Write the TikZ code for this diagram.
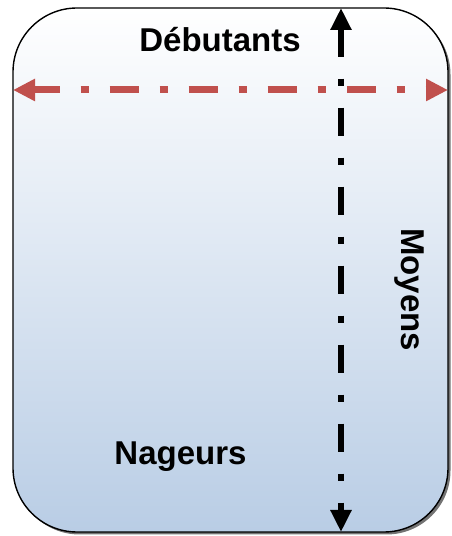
\documentclass[tikz,border=0pt]{standalone}
\usepackage{fontspec}
\setmainfont{Liberation Sans}
\usetikzlibrary{arrows.meta,shadows}
\definecolor{boxbottom}{RGB}{185,205,229}
\definecolor{redline}{RGB}{192,80,77}
\tikzset{
  panel/.style={draw=black, line width=1.4pt, rounded corners=64pt,
    top color=white, bottom color=boxbottom,
    drop shadow={shadow xshift=2.5pt, shadow yshift=-2.5pt, opacity=0.55, fill=black}},
  lbl/.style={font=\fontsize{33}{38}\selectfont\bfseries, text=black, inner sep=0pt, anchor=base},
  redarrow/.style={draw=redline, line width=7pt, {Triangle[length=22pt,width=21pt]}-{Triangle[length=22pt,width=21pt]},
    dash pattern=on 29pt off 21pt on 8pt off 21pt, dash phase=3pt},
  blackarrow/.style={draw=black, line width=6pt, {Triangle[length=22pt,width=20pt]}-{Triangle[length=22pt,width=20pt]},
    dash pattern=on 28pt off 22pt on 7pt off 22pt}
}
\begin{document}
\begin{tikzpicture}[x=1pt,y=1pt]
\useasboundingbox (0,0) rectangle (451,536);
\path[panel] (13,4) rectangle (448,528);
\coordinate (rl) at (13,446);
\coordinate (rr) at (448,446);
\coordinate (bt) at (341,528);
\coordinate (bb) at (341,4);
\draw[redarrow] (rl) -- (rr);
\draw[blackarrow] (bt) -- (bb);
\node[lbl] (deb) at (220,484) {Débutants};
\node[lbl] (nag) at (180.5,71) {Nageurs};
\node[lbl, rotate=-90] (moy) at (401,246.5) {Moyens};
\end{tikzpicture}
\end{document}
